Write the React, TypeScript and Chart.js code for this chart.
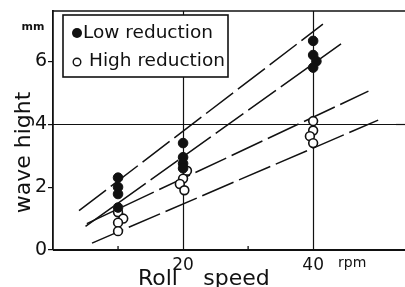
import React, { useEffect, useRef } from 'react';
import { Chart, registerables } from 'chart.js';

Chart.register(...registerables);

// ---- data ----
const lowX = [10, 10, 10, 10, 20, 20, 20, 20, 40, 40, 40.5, 40];
const lowY = [2.3, 2.0, 1.78, 1.35, 3.4, 2.95, 2.75, 2.6, 6.65, 6.2, 6.0, 5.8];
const highX = [10, 10.8, 10, 10, 20.6, 20, 19.5, 20.2, 40, 40, 39.5, 40];
const highY = [1.2, 1.0, 0.87, 0.6, 2.52, 2.27, 2.1, 1.9, 4.1, 3.8, 3.62, 3.4];

const line1X = [4, 41.5];
const line1Y = [1.25, 7.18];
const line2X = [5, 44.6];
const line2Y = [0.75, 6.6];
const line3X = [5.2, 48.5];
const line3Y = [0.84, 5.05];
const line4X = [6, 50];
const line4Y = [0.22, 4.13];

const xLabelTicks = [20, 40];
const xMinorTicks = [10, 30];
const xAllTicks = [10, 20, 30, 40];
const yTicks = [0, 2, 4, 6];
const yGridValues = [4];
const xGridValues = [20, 40];

const legendLabels = ['Low reduction', 'High reduction'];
const yTitle = 'wave hight';
const xTitleWords = ['Roll', 'speed'];
const yUnit = 'mm';
const xUnit = 'rpm';

const FONT = '"DejaVu Sans", "Liberation Sans", sans-serif';
const INK = '#111';

const pts = (xs: number[], ys: number[]) => xs.map((x, i) => ({ x, y: ys[i] }));

const decorPlugin = {
  id: 'decor',
  beforeDatasetsDraw(chart: any) {
    const ctx = chart.ctx as CanvasRenderingContext2D;
    const ca = chart.chartArea;
    const xs = chart.scales.x;
    const ys = chart.scales.y;
    ctx.save();
    ctx.strokeStyle = INK;
    ctx.lineWidth = 1.2;
    xGridValues.forEach((v) => {
      const px = Math.round(xs.getPixelForValue(v)) + 0.5;
      ctx.beginPath();
      ctx.moveTo(px, ca.top);
      ctx.lineTo(px, ca.bottom);
      ctx.stroke();
    });
    yGridValues.forEach((v) => {
      const py = Math.round(ys.getPixelForValue(v)) + 0.5;
      ctx.beginPath();
      ctx.moveTo(ca.left, py);
      ctx.lineTo(chart.width, py);
      ctx.stroke();
    });
    ctx.restore();
  },
  afterDraw(chart: any) {
    const ctx = chart.ctx as CanvasRenderingContext2D;
    const ca = chart.chartArea;
    const xs = chart.scales.x;
    const ys = chart.scales.y;
    ctx.save();

    // clear the strip right of the plot area, then continue the frame lines to the edge
    ctx.fillStyle = '#fff';
    ctx.fillRect(ca.right - 2, ca.top + 1, chart.width - ca.right + 2, ca.bottom - ca.top - 2);
    ctx.strokeStyle = INK;
    ctx.fillStyle = INK;
    ctx.lineWidth = 1.2;
    yGridValues.forEach((v) => {
      const py = Math.round(ys.getPixelForValue(v)) + 0.5;
      ctx.beginPath();
      ctx.moveTo(ca.right - 3, py);
      ctx.lineTo(chart.width, py);
      ctx.stroke();
    });

    // top frame line
    ctx.lineWidth = 1.6;
    ctx.beginPath();
    ctx.moveTo(ca.left, ca.top);
    ctx.lineTo(chart.width, ca.top);
    ctx.stroke();

    // x axis line
    ctx.lineWidth = 2;
    ctx.beginPath();
    ctx.moveTo(ca.left, ca.bottom);
    ctx.lineTo(chart.width, ca.bottom);
    ctx.stroke();

    // inner minor ticks on x axis
    ctx.lineWidth = 1.3;
    xMinorTicks.forEach((v) => {
      const px = xs.getPixelForValue(v);
      ctx.beginPath();
      ctx.moveTo(px, ca.bottom);
      ctx.lineTo(px, ca.bottom - 4);
      ctx.stroke();
    });

    // legend box
    const bx = ca.left + 10;
    const by = ca.top + 4;
    const bw = 165;
    const bh = 62;
    ctx.fillStyle = '#fff';
    ctx.fillRect(bx, by, bw, bh);
    ctx.lineWidth = 1.6;
    ctx.strokeRect(bx, by, bw, bh);

    ctx.fillStyle = INK;
    ctx.beginPath();
    ctx.arc(bx + 14, by + 18, 5, 0, Math.PI * 2);
    ctx.fill();
    ctx.beginPath();
    ctx.lineWidth = 1.4;
    ctx.arc(bx + 14, by + 47, 3.8, 0, Math.PI * 2);
    ctx.stroke();

    ctx.font = `18.5px ${FONT}`;
    ctx.textBaseline = 'alphabetic';
    ctx.textAlign = 'left';
    ctx.fillText(legendLabels[0], bx + 20, by + 23);
    ctx.fillText(legendLabels[1], bx + 26, by + 51);

    // units
    ctx.font = `bold 11px ${FONT}`;
    ctx.textAlign = 'center';
    ctx.fillText(yUnit, 33, ca.top + 19);
    ctx.font = `14px ${FONT}`;
    ctx.textAlign = 'left';
    ctx.fillText(xUnit, 338, ca.bottom + 17);

    // x title
    ctx.font = `22px ${FONT}`;
    ctx.textAlign = 'right';
    ctx.fillText(xTitleWords[0], xs.getPixelForValue(19.2), 285);
    ctx.textAlign = 'left';
    ctx.fillText(xTitleWords[1], xs.getPixelForValue(23.1), 285);

    // y title
    ctx.save();
    ctx.translate(30, (ys.getPixelForValue(0) + ys.getPixelForValue(7.6)) / 2 + 22);
    ctx.rotate(-Math.PI / 2);
    ctx.textAlign = 'center';
    ctx.fillText(yTitle, 0, 0);
    ctx.restore();

    ctx.restore();
  },
};

export default function App() {
  const ref = useRef<HTMLCanvasElement | null>(null);

  useEffect(() => {
    document.body.style.margin = '0';
    const canvas = ref.current;
    if (!canvas) return;
    const lineDs = (xs: number[], ys: number[]) => ({
      type: 'line' as const,
      data: pts(xs, ys),
      borderColor: INK,
      borderWidth: 1.5,
      borderDash: [34, 6],
      pointRadius: 0,
      fill: false,
      tension: 0,
    });
    const chart = new Chart(canvas, {
      type: 'scatter',
      data: {
        datasets: [
          {
            label: legendLabels[0],
            data: pts(lowX, lowY),
            backgroundColor: INK,
            borderColor: INK,
            borderWidth: 1,
            pointRadius: 4.8,
          },
          {
            label: legendLabels[1],
            data: pts(highX, highY),
            backgroundColor: '#fff',
            borderColor: INK,
            borderWidth: 1.6,
            pointRadius: 4.4,
          },
          lineDs(line1X, line1Y) as any,
          lineDs(line2X, line2Y) as any,
          lineDs(line3X, line3Y) as any,
          lineDs(line4X, line4Y) as any,
        ],
      },
      options: {
        responsive: false,
        animation: false,
        devicePixelRatio: 1,
        layout: { padding: { top: 11, right: 0, left: 0, bottom: 0 } },
        plugins: { legend: { display: false }, tooltip: { enabled: false } },
        scales: {
          x: {
            type: 'linear',
            min: 0,
            max: 53.2,
            afterFit: (s: any) => {
              s.height = 37;
              s.paddingLeft = 0;
              s.paddingRight = 0;
            },
            afterBuildTicks: (s: any) => {
              s.ticks = xAllTicks.map((v) => ({ value: v }));
            },
            border: { display: false },
            grid: { display: false, drawTicks: false },
            ticks: {
              padding: 5,
              color: INK,
              maxRotation: 0,
              autoSkip: false,
              font: { family: FONT, size: 17 },
              callback: (v: any) => (xLabelTicks.includes(Number(v)) ? String(v) : ''),
            },
          },
          y: {
            type: 'linear',
            min: 0,
            max: 7.6,
            afterFit: (s: any) => {
              s.width = 53;
              s.paddingTop = 0;
              s.paddingBottom = 0;
            },
            afterBuildTicks: (s: any) => {
              s.ticks = yTicks.map((v) => ({ value: v }));
            },
            border: { display: true, color: INK, width: 1.8 },
            grid: {
              drawTicks: true,
              drawOnChartArea: false,
              tickLength: 5,
              lineWidth: 1.2,
              tickColor: INK,
              color: 'rgba(0,0,0,0)',
            },
            ticks: {
              padding: 1,
              color: INK,
              autoSkip: false,
              font: { family: FONT, size: 19 },
              callback: (v: any) => String(v),
            },
          },
        },
      },
      plugins: [decorPlugin],
    });
    return () => chart.destroy();
  }, []);

  return (
    <div style={{ width: 405, height: 287 }}>
      <canvas ref={ref} width={405} height={287} style={{ display: 'block' }} />
    </div>
  );
}
